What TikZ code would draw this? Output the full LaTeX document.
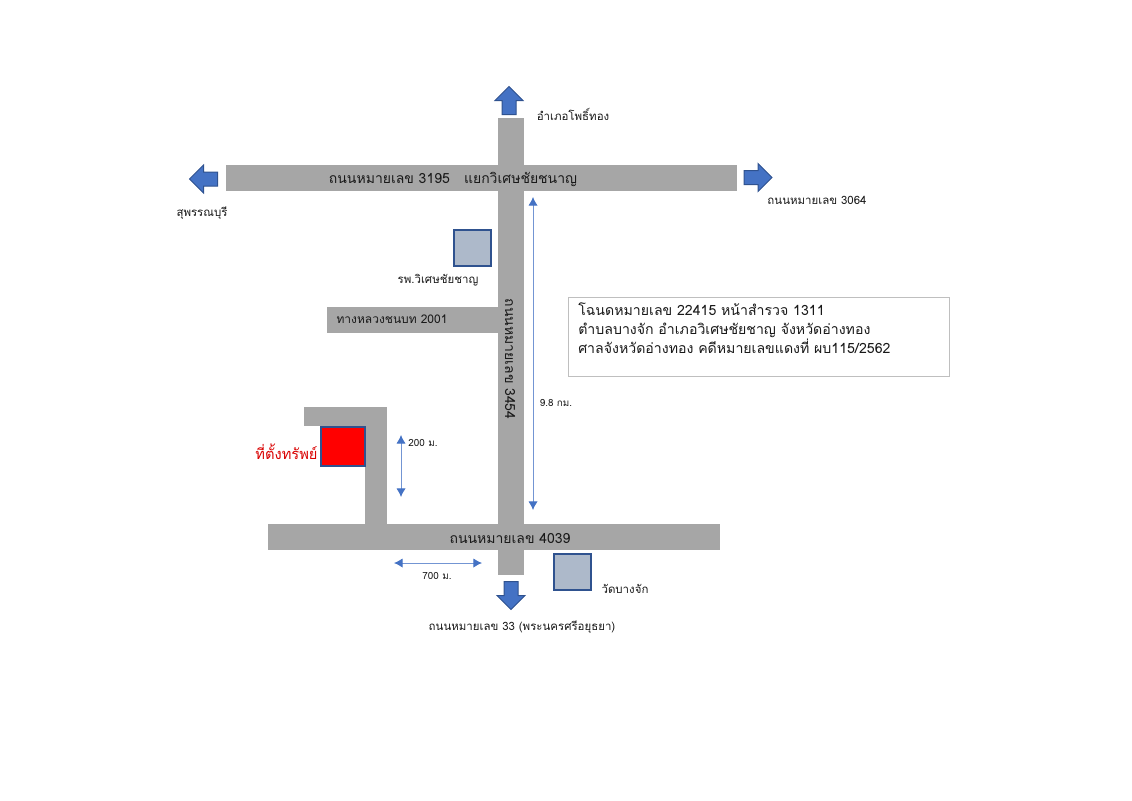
\documentclass[tikz,border=0pt]{standalone}
\usepackage{fontspec}
\setmainfont[Script=Thai]{Loma}
\usetikzlibrary{shapes.arrows,arrows.meta}
\newlength{\du}
\setlength{\du}{0.75pt}
\definecolor{roadgray}{RGB}{166,166,166}
\definecolor{arrowblue}{RGB}{68,114,196}
\definecolor{edgeblue}{RGB}{47,82,143}
\definecolor{bldgblue}{RGB}{173,185,202}
\definecolor{boxgray}{RGB}{191,191,191}
\tikzset{
  road/.style={fill=roadgray,inner sep=0pt,font=\fontsize{10.5}{12}\selectfont,text=black!90},
  bldg/.style={fill=bldgblue,draw=edgeblue,line width=1.2\du,inner sep=0pt},
  blockarrow/.style={shape=single arrow,fill=arrowblue,draw=edgeblue,line width=1\du,inner xsep=0pt,inner ysep=6.5\du,
    minimum width=27\du,minimum height=28\du,single arrow head extend=7\du,single arrow tip angle=90},
  lbl/.style={font=\fontsize{8.6}{10}\selectfont,text=black!90,inner sep=0pt},
  small/.style={lbl,font=\fontsize{7.4}{9}\selectfont},
  dimline/.style={draw=arrowblue!75,line width=0.9\du,{Latex[length=6.5pt,width=7pt,color=arrowblue]}-{Latex[length=6.5pt,width=7pt,color=arrowblue]}},
}
\begin{document}
\begin{tikzpicture}[x=1\du,y=-1\du]
\useasboundingbox (0,0) rectangle (1132,800);
% roads
\node[road,minimum width=26\du,minimum height=457\du] (r3454) at (511,346.5) {};
\node[road,minimum width=511\du,minimum height=26\du] (r3195) at (481.5,178) {};
\node[road,minimum width=452\du,minimum height=26\du] (r4039) at (494,537) {};
\node[road,minimum width=171\du,minimum height=26\du] (r2001) at (412.5,320) {};
\node[road,minimum width=83\du,minimum height=19\du] (rtop) at (345.5,416.5) {};
\node[road,minimum width=22\du,minimum height=117\du] (rside) at (376,465.5) {};
% road names
\node[road,fill=none,inner sep=0pt] (n3195) at (453,179.5) {ถนนหมายเลข 3195 \ \ แยกวิเศษชัยชนาญ};
\node[road,fill=none,inner sep=0pt] (n4039) at (510,538.5) {ถนนหมายเลข 4039};
\node[road,fill=none,inner sep=0pt,rotate=-90] (n3454) at (510,359) {ถนนหมายเลข 3454};
\node[lbl,font=\fontsize{9}{11}\selectfont] (n2001) at (392,319.5) {ทางหลวงชนบท 2001};
% buildings
\node[bldg,minimum width=37\du,minimum height=36\du] (hosp) at (472.5,248) {};
\node[bldg,minimum width=37\du,minimum height=36\du] (wat) at (572.5,572) {};
\node[fill=red,draw=edgeblue,line width=1.2\du,inner sep=0pt,minimum width=44\du,minimum height=39\du] (site) at (343,446.5) {};
% block arrows
\node[blockarrow,rotate=90] (north) at (509,104) {};
\node[blockarrow,rotate=180] (west) at (207,179) {};
\node[blockarrow] (east) at (754.5,177.5) {};
\node[blockarrow,rotate=-90] (south) at (511,592) {};
% labels
\node[lbl] (lnorth) at (573,114.5) {อำเภอโพธิ์ทอง};
\node[lbl] (lwest) at (202,213) {สุพรรณบุรี};
\node[lbl] (least) at (817,200.5) {ถนนหมายเลข 3064};
\node[lbl] (lsouth) at (522,627) {ถนนหมายเลข 33 (พระนครศรีอยุธยา)};
\node[lbl] (lhosp) at (438,280.5) {รพ.วิเศษชัยชาญ};
\node[lbl] (lwat) at (625,588.5) {วัดบางจัก};
\node[lbl,font=\fontsize{11}{12}\selectfont,text=red!85!black] (lsite) at (286.5,451.5) {ที่ตั้งทรัพย์};
% distances
\coordinate (d1a) at (533,197);
\coordinate (d1b) at (533,510);
\coordinate (d2a) at (401,435);
\coordinate (d2b) at (401,497);
\coordinate (d3a) at (394,563);
\coordinate (d3b) at (482,563);
\draw[dimline] (d1a) -- (d1b);
\draw[dimline] (d2a) -- (d2b);
\draw[dimline] (d3a) -- (d3b);
\node[small] (l98) at (556,403) {9.8 กม.};
\node[small] (l200) at (423,443) {200 ม.};
\node[small] (l700) at (437,576) {700 ม.};
% deed box
\node[draw=boxgray,line width=1\du,minimum width=381\du,minimum height=79\du,inner sep=0pt] (deed) at (758.5,336.5) {};
\node[anchor=north west,inner sep=0pt,align=left,font=\fontsize{10.6}{13.9}\selectfont,text=black!90] (deedtxt) at (578,303) {โฉนดหมายเลข 22415 หน้าสำรวจ 1311\\ตำบลบางจัก อำเภอวิเศษชัยชาญ จังหวัดอ่างทอง\\ศาลจังหวัดอ่างทอง คดีหมายเลขแดงที่ ผบ115/2562};
\end{tikzpicture}
\end{document}
